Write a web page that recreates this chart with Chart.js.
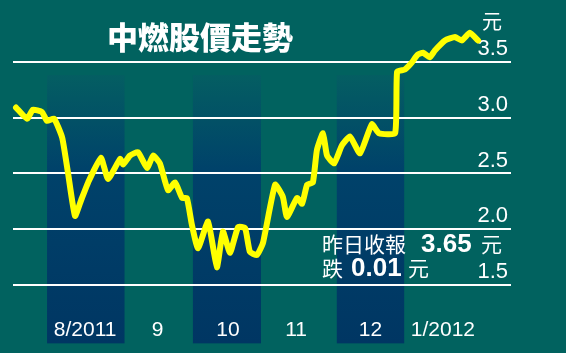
<!DOCTYPE html>
<html>
<head>
<meta charset="utf-8">
<script src="https://cdn.jsdelivr.net/npm/chart.js@4.4.0/dist/chart.umd.min.js"></script>
<style>
  html, body { margin: 0; padding: 0; background: #01625f; }
  canvas { display: block; }
</style>
</head>
<body>
<canvas id="myChart" width="566" height="353"></canvas>
<script>
// trading-day position (0 = 1 Aug 2011) and closing price
const days = [-9.2, -5.9, -4.2, -1.5, 0, 2.1, 4.5, 6.2, 8.3, 10.1, 12.2, 16.0, 18.1, 21.7, 22.6, 24.6, 27.0, 29.7, 31.5, 33.5, 35.9, 38.0, 40.1, 41.5, 43.0, 44.8, 47.8, 50.4, 52.2, 54.3, 56.7, 58.8, 60.2, 62.3, 64.1, 67.7, 70.0, 71.2, 74.2, 75.7, 77.2, 78.9, 80.1, 81.9, 83.1, 85.2, 87.5, 89.9, 92.9, 96.4, 98.5, 103.3, 103.9, 106.2, 108.2, 109.9, 111.6, 113.6, 115.1, 118.1, 121.1, 123.1, 125.5, 127.9];
const prices = [3.09, 2.99, 3.07, 3.05, 2.97, 2.99, 2.82, 2.51, 2.12, 2.26, 2.42, 2.64, 2.45, 2.63, 2.58, 2.66, 2.69, 2.55, 2.66, 2.59, 2.35, 2.42, 2.28, 2.28, 2.04, 1.83, 2.07, 1.66, 1.98, 1.79, 2.02, 2.01, 1.80, 1.77, 1.88, 2.40, 2.29, 2.11, 2.28, 2.23, 2.40, 2.42, 2.71, 2.86, 2.66, 2.59, 2.75, 2.83, 2.68, 2.94, 2.86, 2.86, 3.41, 3.43, 3.49, 3.56, 3.58, 3.54, 3.60, 3.69, 3.72, 3.69, 3.76, 3.69];

const monthLabels = ["8/2011", "9", "10", "11", "12", "1/2012"];
const monthMid = [11.3, 32.8, 53.7, 73.9, 96, 117.5];
const bandStart = [0, 43.3, 86];
const bandEnd = [23, 63.5, 106];
const yTicks = [1.5, 2.0, 2.5, 3.0, 3.5];

const sans = "'Liberation Sans', Arial, sans-serif";
const cjk = "'Noto Sans CJK TC', 'Noto Sans CJK SC', sans-serif";

const decor = {
  id: "decor",
  beforeDraw(chart) {
    // month bands sit under the grid, ticks and line
    const ctx = chart.ctx;
    const x = chart.scales.x;
    const y = chart.scales.y;
    const top = y.getPixelForValue(3.38);
    const bottom = y.getPixelForValue(0.98);
    ctx.save();
    const grad = ctx.createLinearGradient(0, top, 0, bottom);
    grad.addColorStop(0, "#045e62");
    grad.addColorStop(0.35, "#00426a");
    grad.addColorStop(1, "#003663");
    ctx.fillStyle = grad;
    for (let i = 0; i < bandStart.length; i++) {
      const x0 = x.getPixelForValue(bandStart[i]);
      const x1 = x.getPixelForValue(bandEnd[i]);
      ctx.fillRect(x0, top, x1 - x0, bottom - top);
    }
    ctx.restore();
  },
  afterDraw(chart) {
    const ctx = chart.ctx;
    const y = chart.scales.y;
    ctx.save();
    ctx.fillStyle = "#ffffff";
    ctx.textBaseline = "middle";
    // title
    ctx.textAlign = "center";
    ctx.font = "900 31px " + cjk;
    ctx.fillText("中燃股價走勢", 200, 37);
    // unit
    ctx.textAlign = "right";
    ctx.font = "20px " + cjk;
    ctx.fillText("元", chart.chartArea.right - 9, y.getPixelForValue(3.5) - 40);
    // note
    ctx.textAlign = "left";
    ctx.font = "21px " + cjk;
    ctx.fillText("昨日收報", 322, 244);
    ctx.fillText("元", 481, 244);
    ctx.fillText("跌", 322, 268);
    ctx.fillText("元", 408, 268);
    ctx.font = "bold 26px " + sans;
    ctx.fillText("3.65", 421, 245);
    ctx.fillText("0.01", 351, 269);
    ctx.restore();
  }
};

const ctx = document.getElementById("myChart").getContext("2d");
const myChart = new Chart(ctx, {
  type: "line",
  data: {
    datasets: [
      {
        data: days.map(function (d, i) { return { x: d, y: prices[i] }; }),
        borderColor: "#ffff00",
        borderWidth: 6,
        borderJoinStyle: "round",
        borderCapStyle: "round",
        pointRadius: 0,
        tension: 0.15,
        fill: false,
        clip: false,
      },
    ],
  },
  options: {
    responsive: false,
    animation: false,
    layout: { padding: { left: 13, right: 55, top: 20, bottom: 0 } },
    plugins: { legend: { display: false }, tooltip: { enabled: false } },
    scales: {
      x: {
        type: "linear",
        min: -10.1,
        max: 137.7,
        border: { display: false },
        grid: { display: false, drawTicks: false },
        afterBuildTicks: function (scale) {
          scale.ticks = monthMid.map(function (v) { return { value: v }; });
        },
        afterFit: function (scale) { scale.height = 51; },
        ticks: {
          autoSkip: false,
          maxRotation: 0,
          padding: 16,
          color: "#ffffff",
          font: { family: sans, size: 21 },
          callback: function (value, index) { return monthLabels[index]; },
        },
      },
      y: {
        position: "right",
        min: 1.35,
        max: 3.873,
        border: { display: false },
        grid: { color: "#ffffff", lineWidth: 2, drawTicks: false },
        afterBuildTicks: function (scale) {
          scale.ticks = yTicks.map(function (v) { return { value: v }; });
        },
        afterFit: function (scale) { scale.width = 0; },
        ticks: {
          mirror: true,
          padding: -3,
          labelOffset: -13,
          color: "#ffffff",
          font: { family: sans, size: 22 },
          callback: function (value) { return value.toFixed(1); },
        },
      },
    },
  },
  plugins: [decor],
});
</script>
</body>
</html>
